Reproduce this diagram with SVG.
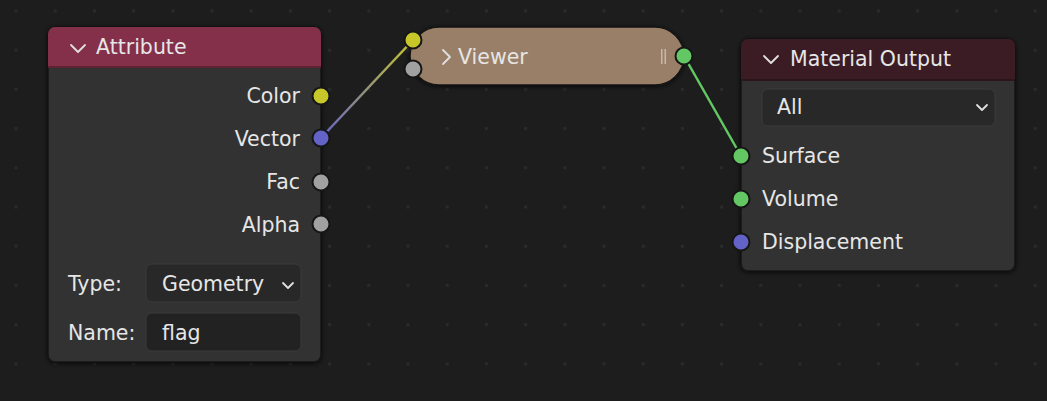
<svg xmlns="http://www.w3.org/2000/svg" width="1047" height="401" viewBox="0 0 1047 401">
<defs>
<pattern id="grid" patternUnits="userSpaceOnUse" x="14.5" y="9.5" width="39.2" height="39.2">
<rect x="0" y="0" width="3" height="3" fill="#2a2a2a"/>
</pattern>
<filter id="shadow" x="-10%" y="-10%" width="120%" height="130%">
<feDropShadow dx="0" dy="1" stdDeviation="2.5" flood-color="#000" flood-opacity="0.7"/>
</filter>
<linearGradient id="lnk1" gradientUnits="userSpaceOnUse" x1="321" y1="138" x2="413" y2="40">
<stop offset="0" stop-color="#6363c7"/>
<stop offset="0.5" stop-color="#95957a"/>
<stop offset="1" stop-color="#c7c729"/>
</linearGradient>
<style>
.t{font-family:"DejaVu Sans",Inter,sans-serif;font-size:20.5px;fill:#e6e6e6}
.r{text-anchor:end}
.body{fill:#303030;stroke:#161616;stroke-width:1.5}
.chev{fill:none;stroke:#e0e0e0;stroke-width:1.8;stroke-linecap:round;stroke-linejoin:round}
.sock{stroke:#161616;stroke-width:2}
.yel{fill:#c7c729}.pur{fill:#6363c7}.gry{fill:#a1a1a1}.grn{fill:#63c763}
.field{fill:#282828;stroke:#3a3a3a;stroke-width:1}
.field2{fill:#222222;stroke:#3a3a3a;stroke-width:1}
.link{fill:none;stroke-width:2.5}
</style>
</defs>
<rect width="1047" height="401" fill="#1d1d1d"/>
<rect width="1047" height="401" fill="url(#grid)"/>

<g id="connectors">
<path class="link" d="M321,138 L413,40" stroke="url(#lnk1)"/>
<path class="link" d="M684,56 L741,156" stroke="#63c763"/>
</g>

<g id="attribute">
<g filter="url(#shadow)">
<rect class="body" x="48" y="27" width="273" height="335" rx="7"/>
</g>
<path d="M48,66 V34 A7,7 0 0 1 55,27 H314 A7,7 0 0 1 321,34 V66 Z" fill="#84304a"/>
<rect x="48" y="66" width="273" height="2" fill="#5e2235"/>
<polyline class="chev" points="71,45 78,52 85,45"/>
<text class="t" x="96" y="54">Attribute</text>
<text class="t r" x="300" y="103">Color</text>
<text class="t r" x="300" y="146">Vector</text>
<text class="t r" x="300" y="189">Fac</text>
<text class="t r" x="300" y="232">Alpha</text>
<circle class="sock yel" cx="321" cy="96" r="8.5"/>
<circle class="sock pur" cx="321" cy="138" r="8.5"/>
<circle class="sock gry" cx="321" cy="182" r="8.5"/>
<circle class="sock gry" cx="321" cy="224" r="8.5"/>
<text class="t" x="68" y="291">Type:</text>
<rect class="field" x="146" y="264" width="155" height="38" rx="6"/>
<text class="t" x="162" y="291">Geometry</text>
<polyline class="chev" points="283,283 288,288 293,283"/>
<text class="t" x="68" y="340">Name:</text>
<rect class="field2" x="146" y="313" width="155" height="38" rx="6"/>
<text class="t" x="162" y="340">flag</text>
</g>

<g id="viewer">
<g filter="url(#shadow)">
<rect x="410" y="27" width="274" height="58" rx="29" fill="#9a7f67" stroke="#161616" stroke-width="1.5"/>
</g>
<polyline class="chev" points="443,50 450,57 443,64"/>
<text class="t" x="458" y="64">Viewer</text>
<rect x="661" y="49" width="1.5" height="15" fill="#c8b8a8"/>
<rect x="664.5" y="49" width="1.5" height="15" fill="#c8b8a8"/>
<circle class="sock yel" cx="413" cy="40" r="8.5"/>
<circle class="sock gry" cx="413" cy="69" r="8.5"/>
<circle class="sock grn" cx="684" cy="56" r="8.5"/>
</g>

<g id="material-output">
<g filter="url(#shadow)">
<rect class="body" x="741" y="39" width="274" height="232" rx="7"/>
</g>
<path d="M741,79 V46 A7,7 0 0 1 748,39 H1008 A7,7 0 0 1 1015,46 V79 Z" fill="#3c1c24"/>
<rect x="741" y="79" width="274" height="2" fill="#2a1519"/>
<polyline class="chev" points="764,56 771,63 778,56"/>
<text class="t" x="790" y="66">Material Output</text>
<rect class="field" x="762" y="89" width="233" height="37" rx="6"/>
<text class="t" x="777" y="114">All</text>
<polyline class="chev" points="977,105 982,110 987,105"/>
<text class="t" x="762" y="163">Surface</text>
<text class="t" x="762" y="206">Volume</text>
<text class="t" x="762" y="249">Displacement</text>
<circle class="sock grn" cx="741" cy="156" r="8.5"/>
<circle class="sock grn" cx="741" cy="199" r="8.5"/>
<circle class="sock pur" cx="741" cy="242" r="8.5"/>
</g>
</svg>
